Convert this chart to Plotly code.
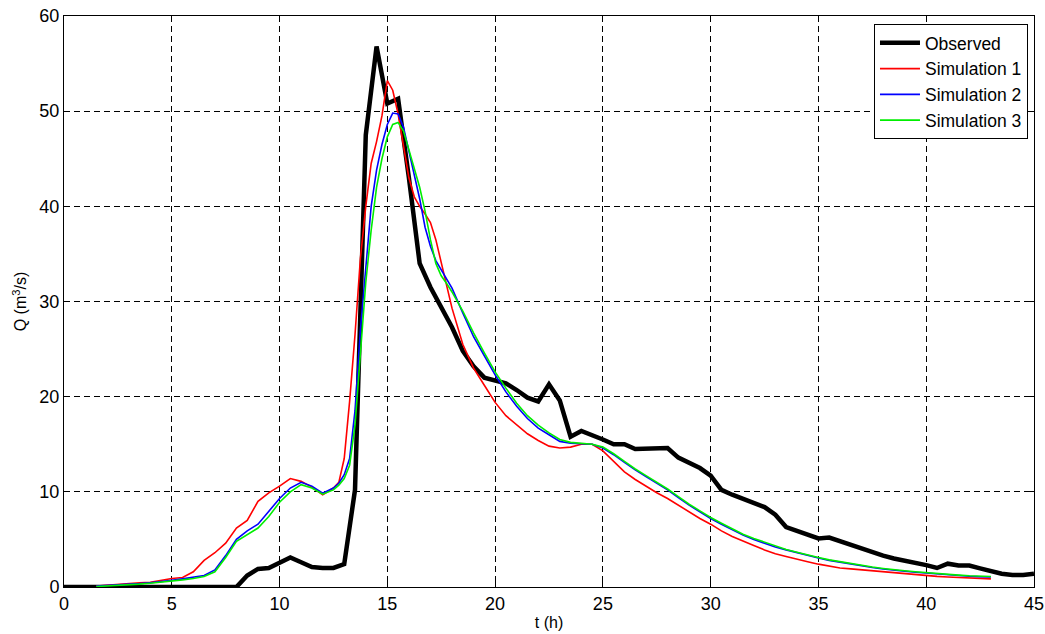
import plotly.graph_objects as go

# Observed hydrograph (0.5 h steps)
t_obs = [0, 0.5, 1, 1.5, 2, 2.5, 3, 3.5, 4, 4.5, 5, 5.5, 6, 6.5, 7, 7.5, 8, 8.5, 9, 9.5,
         10, 10.5, 11, 11.5, 12, 12.5, 13, 13.5, 14, 14.5, 15, 15.5, 16, 16.5, 17, 17.5,
         18, 18.5, 19, 19.5, 20, 20.5, 21, 21.5, 22, 22.5, 23, 23.5, 24, 24.5, 25, 25.5,
         26, 26.5, 27, 27.5, 28, 28.5, 29, 29.5, 30, 30.5, 31, 31.5, 32, 32.5, 33, 33.5,
         34, 34.5, 35, 35.5, 36, 36.5, 37, 37.5, 38, 38.5, 39, 39.5, 40, 40.5, 41, 41.5,
         42, 42.5, 43, 43.5, 44, 44.5, 45]
q_obs = [0, 0, 0, 0, 0, 0, 0, 0, 0, 0, 0, 0, 0, 0, 0, 0, 0, 1.2, 1.9, 2.0,
         2.5, 3.1, 2.6, 2.1, 2.0, 2.0, 2.4, 10.2, 47.5, 56.8, 50.8, 51.3, 43.0, 34.0, 31.5, 29.4,
         27.3, 24.8, 23.2, 22.0, 21.7, 21.4, 20.7, 19.9, 19.5, 21.3, 19.6, 15.8, 16.4, 16.0, 15.5, 15.0,
         15.0, 14.5, 14.5, 14.6, 14.6, 13.6, 13.0, 12.5, 11.7, 10.2, 9.7, 9.3, 8.8, 8.4, 7.6, 6.3,
         5.9, 5.5, 5.1, 5.2, 4.8, 4.4, 4.0, 3.6, 3.3, 3.0, 2.8, 2.5, 2.3, 2.0, 2.45, 2.25,
         2.25, 1.95, 1.65, 1.4, 1.25, 1.25, 1.4]

# Simulation time grid
t_sim = [1.5, 2, 2.5, 3, 3.5, 4, 4.5, 5, 5.5, 6, 6.5, 7, 7.5, 8, 8.5, 9, 9.5, 10, 10.5, 11,
         11.5, 12, 12.5, 12.75, 13, 13.25, 13.5, 13.75, 14, 14.25, 14.5, 14.75, 15, 15.25,
         15.5, 15.75, 16, 16.25, 16.5, 16.75, 17, 17.25, 17.5, 17.75, 18, 18.5, 19, 19.5,
         20, 20.5, 21, 21.5, 22, 22.5, 23, 23.5, 24, 24.5, 25, 25.5, 26, 26.5, 27, 27.5,
         28, 28.5, 29, 29.5, 30, 30.5, 31, 31.5, 32, 32.5, 33, 33.5, 34, 34.5, 35, 35.5,
         36, 36.5, 37, 37.5, 38, 38.5, 39, 39.5, 40, 40.5, 41, 41.5, 42, 42.5, 43]

q_sim1 = [0.1, 0.2, 0.3, 0.4, 0.45, 0.5, 0.7, 0.9, 1.0, 1.6, 2.8, 3.6, 4.6, 6.2, 7.0, 9.0, 9.9, 10.6, 11.4, 11.1,
          10.5, 9.7, 10.4, 11.0, 13.5, 19.5, 26.5, 34.5, 40.0, 44.5, 46.8, 49.5, 53.2, 52.2,
          49.7, 46.5, 43.0, 41.0, 40.0, 39.2, 38.3, 36.5, 34.0, 31.8, 29.3, 25.5, 23.0, 21.2,
          19.4, 18.0, 17.0, 16.1, 15.4, 14.8, 14.6, 14.7, 15.0, 15.0, 14.3, 13.2, 12.1, 11.3, 10.6, 9.9,
          9.3, 8.6, 7.9, 7.2, 6.6, 5.9, 5.3, 4.8, 4.35, 3.9, 3.5, 3.2, 2.9, 2.65, 2.4, 2.2,
          2.0, 1.9, 1.8, 1.7, 1.6, 1.45, 1.35, 1.27, 1.2, 1.12, 1.05, 1.0, 0.95, 0.9, 0.85]

q_sim2 = [0.1, 0.15, 0.2, 0.3, 0.35, 0.45, 0.55, 0.7, 0.85, 1.0, 1.2, 1.8, 3.3, 5.0, 5.9, 6.6, 8.0, 9.3, 10.4, 11.0,
          10.6, 9.85, 10.4, 10.9, 11.8, 13.5, 18.5, 27.0, 33.5, 40.0, 43.8, 46.5, 48.6, 49.8,
          49.7, 48.3, 45.8, 43.4, 40.8, 37.8, 35.8, 34.3, 33.3, 32.3, 31.4, 28.8, 26.3, 24.3,
          22.3, 20.5, 19.0, 17.7, 16.7, 16.0, 15.3, 15.1, 15.05, 15.0, 14.6, 13.9, 13.1, 12.3, 11.6, 10.9,
          10.2, 9.4, 8.6, 7.9, 7.2, 6.6, 6.0, 5.45, 5.0, 4.6, 4.2, 3.9, 3.6, 3.3, 3.05, 2.8,
          2.6, 2.4, 2.2, 2.05, 1.9, 1.75, 1.65, 1.55, 1.45, 1.35, 1.27, 1.2, 1.13, 1.08, 1.05]

q_sim3 = [0.05, 0.1, 0.15, 0.25, 0.3, 0.4, 0.5, 0.6, 0.75, 0.9, 1.1, 1.6, 3.1, 4.8, 5.5, 6.2, 7.4, 8.9, 10.0, 10.75,
          10.4, 9.75, 10.2, 10.7, 11.4, 12.8, 17.0, 24.5, 32.0, 37.5, 42.0, 45.0, 47.3, 48.6,
          48.8, 47.9, 46.0, 44.0, 42.0, 39.5, 36.5, 34.0, 32.7, 31.9, 31.0, 29.0, 26.7, 24.6,
          22.6, 20.9, 19.3, 18.0, 17.0, 16.2, 15.5, 15.2, 15.1, 15.0, 14.7, 14.0, 13.2, 12.4, 11.7, 11.0,
          10.3, 9.5, 8.7, 8.0, 7.3, 6.7, 6.1, 5.55, 5.1, 4.7, 4.3, 3.95, 3.65, 3.35, 3.1, 2.85,
          2.65, 2.45, 2.25, 2.1, 1.95, 1.8, 1.7, 1.6, 1.5, 1.4, 1.32, 1.25, 1.18, 1.12, 1.1]

x_ticks = [0, 5, 10, 15, 20, 25, 30, 35, 40, 45]
y_ticks = [0, 10, 20, 30, 40, 50, 60]

FONT = "Liberation Sans, Arial, Helvetica, sans-serif"

fig = go.Figure()
fig.add_trace(go.Scatter(x=t_obs, y=q_obs, mode="lines", name="Observed",
                         line=dict(color="black", width=4.5)))
fig.add_trace(go.Scatter(x=t_sim, y=q_sim1, mode="lines", name="Simulation 1",
                         line=dict(color="#ff0000", width=1.6)))
fig.add_trace(go.Scatter(x=t_sim, y=q_sim2, mode="lines", name="Simulation 2",
                         line=dict(color="#0000ff", width=1.6)))
fig.add_trace(go.Scatter(x=t_sim, y=q_sim3, mode="lines", name="Simulation 3",
                         line=dict(color="#00ee00", width=1.6)))

axis_common = dict(
    showline=True, linecolor="black", linewidth=1, mirror="ticks",
    ticks="inside", ticklen=5, tickcolor="black",
    showgrid=True, gridcolor="black", gridwidth=1, griddash="6px,4px",
    zeroline=False, tickfont=dict(family=FONT, size=18, color="black"),
)

fig.update_xaxes(range=[0, 45], tickvals=x_ticks, title=dict(text="t (h)", standoff=4,
                 font=dict(family=FONT, size=16, color="black")), **axis_common)
fig.update_yaxes(range=[0, 60], tickvals=y_ticks, title=dict(text="Q (m<sup>3</sup>/s)", standoff=8,
                 font=dict(family=FONT, size=16, color="black")), **axis_common)

fig.update_layout(
    width=1045, height=634,
    margin=dict(l=64, r=11, t=16, b=47, autoexpand=False),
    plot_bgcolor="white", paper_bgcolor="white",
    font=dict(family=FONT, size=18, color="black"),
    legend=dict(x=0.9938, y=0.986, xanchor="right", yanchor="top",
                bgcolor="white", bordercolor="black", borderwidth=1,
                font=dict(family=FONT, size=17.5, color="black"),
                tracegroupgap=0, itemwidth=40),
    showlegend=True,
)

fig.write_html("out.html")
